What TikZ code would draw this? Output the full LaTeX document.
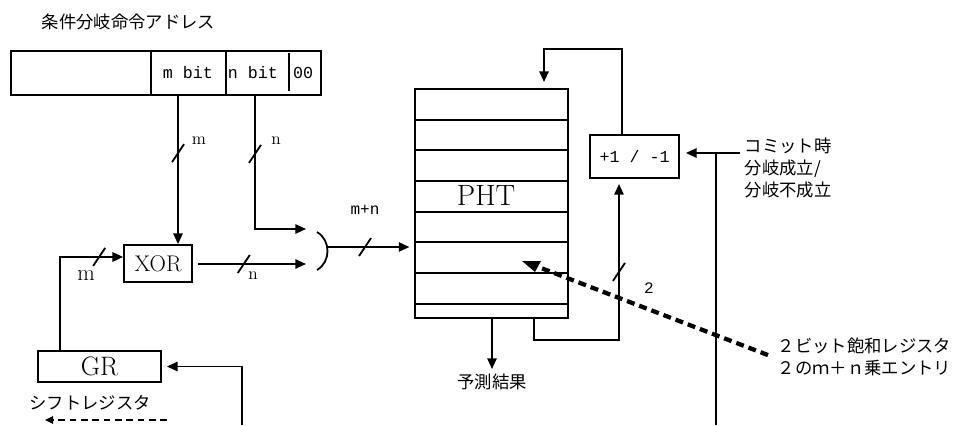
\documentclass[tikz,border=0pt]{standalone}
\usepackage{fontspec}
\newfontfamily\jpfont{Noto Sans CJK JP}
\newfontfamily\monofont{Liberation Mono}
\usetikzlibrary{arrows.meta,positioning}

\tikzset{
    wire/.style={line width=1.35pt},
    box/.style={draw, line width=1.35pt, inner sep=0pt, anchor=center},
    arr/.style={wire, -{Triangle[length=8pt,width=7pt]}},
    jp/.style={font=\jpfont\fontsize{13}{16.5}\selectfont},
    mono/.style={font=\monofont\fontsize{12.5}{15}\selectfont},
    small/.style={font=\fontsize{13}{15}\selectfont},
}
\newcommand{\busmark}[1]{\draw[wire] ([shift={(-6,9)}]#1) -- ([shift={(6,-9)}]#1);}

\begin{document}
\begin{tikzpicture}[x=0.75pt, y=-0.75pt]
            \useasboundingbox (0,0) rectangle (959,425);

            % Define the address register
            \node[jp, anchor=west] (title) at (37,22) {条件分岐命令アドレス};
            \node[box, minimum width=232.5pt, minimum height=33pt] (addr) at (166,73) {};
            \draw[wire] (151,51) -- (151,95);
            \draw[wire] (226,51) -- (226,95);
            \draw[wire] (289,53) -- (289,91);
            \node[mono] (mbit) at (188,73) {m bit};
            \node[mono] (nbit) at (253,73) {n bit};
            \node[mono] (zz) at (303,73) {00};
            \coordinate (mtap) at (178,95);
            \coordinate (ntap) at (255,95);

            % Define the XOR and the global history register
            \node[box, minimum width=51pt, minimum height=27.75pt,
                font=\fontsize{17}{20}\selectfont] (xor) at (158,263.5) {XOR};
            \node[box, minimum width=92.25pt, minimum height=23.25pt,
                font=\fontsize{20}{24}\selectfont] (gr) at (99.5,366.5) {GR};
            \node[jp] (shift) at (90,403) {シフトレジスタ};

            % Define the pattern history table
            \node[box, minimum width=114.75pt, minimum height=171.75pt] (pht) at (491.5,203.5) {};
            \foreach \y in {119.7,150.3,181,211.7,242.3,273,303.7} {
                    \draw[wire] (pht.west |- 0,\y) -- (pht.east |- 0,\y);
                }
            \node[font=\fontsize{22}{26}\selectfont] (phtlabel) at (486,195) {PHT};

            % Define the counter update
            \node[box, minimum width=66.75pt, minimum height=32.25pt, mono] (upd) at (634.5,156.5) {+1 / -1};
            \node[jp, align=left, anchor=west] (commit) at (740,168) {コミット時\\分岐成立/\\分岐不成立};
            \node[jp, anchor=north] (pred) at (492,369) {予測結果};
            \node[jp, align=left, anchor=west] (sat) at (773,357) {２ビット飽和レジスタ\\２のｍ＋ｎ乗エントリ};

            % Draw the index path
            \coordinate (orin1) at (306,229);
            \coordinate (orin2) at (306,264);
            \coordinate (orout) at (328,247);
            \draw[arr] (mtap) -- coordinate[pos=0.39] (bm) (mtap |- xor.north);
            \draw[arr] (ntap) |- coordinate[pos=0.22] (bn) (orin1);
            \draw[arr, shorten <=3.75pt] (xor.east |- orin2) -- coordinate[pos=0.45] (bx) (orin2);
            \draw[wire] (317,232) .. controls (331,240) and (331,262) .. (317,270);
            \draw[arr, shorten >=3.5pt] (orout) -- coordinate[pos=0.43] (bmn) (pht.west |- orout);
            \draw[arr] ([xshift=17.25pt]gr.north west) |- coordinate[pos=0.81] (bg) ([yshift=4.9pt]xor.west);
            \foreach \b in {bm,bn,bx,bmn,bg} {
                    \busmark{\b}
                }
            \node[small] at (199,141) {m};
            \node[small] at (276,141) {n};
            \node[small] at (253,276) {n};
            \node[font=\fontsize{17}{19}\selectfont] at (86,276) {m};
            \node[mono, font=\monofont\fontsize{12}{14}\selectfont] at (365,210) {m+n};

            % Draw the update loop
            \coordinate (fbout) at (534,318);
            \coordinate (fbin) at (619,178);
            \coordinate (uout) at (622,135);
            \coordinate (pin) at (544,89);
            \draw[arr, shorten >=4.5pt] (fbout) -- (fbout |- 0,340) -| coordinate[pos=0.71] (b2) (fbin);
            \busmark{b2}
            \node[mono, font=\monofont\fontsize{12}{14}\selectfont] at (649,288) {2};
            \draw[arr, shorten >=5.25pt] (uout) -- (uout |- 0,49) -| (pin);
            \draw[arr] (pht.south -| pred) -- (pred.north);

            % Draw the commit path
            \coordinate (cmtap) at (716,153);
            \coordinate (cmbot) at (716,425);
            \draw[arr, shorten >=4.5pt] (commit.west |- cmtap) -- (upd.east |- cmtap);
            \draw[wire] (cmtap) -- (cmbot);

            % Draw the history update
            \coordinate (grfb) at (242,425);
            \draw[arr, shorten >=3.75pt] (grfb) |- (gr.east);
            \coordinate (sh1) at (167,420);
            \coordinate (sh2) at (45,420);
            \draw[wire, -{Triangle[length=6pt,width=5.5pt]}, dash pattern=on 5pt off 3.5pt] (sh1) -- (sh2);

            % Draw the entry pointer
            \coordinate (entry) at (541,268);
            \draw[line width=3.2pt, dash pattern=on 6pt off 3.75pt, shorten <=4pt] (sat.west) -- (entry);
            \fill (522,261) -- (541,261) -- (535,272) -- cycle;

        \end{tikzpicture}
\end{document}
